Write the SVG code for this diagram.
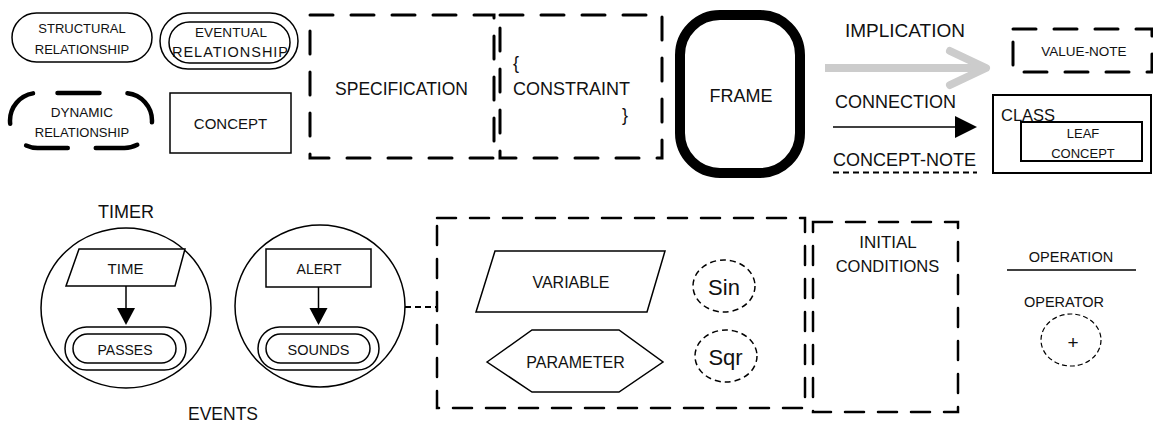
<svg xmlns="http://www.w3.org/2000/svg" width="1153" height="423" viewBox="0 0 1153 423">
  <style>
    text { font-family: "Liberation Sans", Arial, sans-serif; fill: #111; }
    .c { text-anchor: middle; }
    .line { fill: #fff; stroke: #000; stroke-width: 1.5; }
    .thin { fill: none; stroke: #000; stroke-width: 1.5; }
    .dashbox { fill: none; stroke: #000; stroke-width: 3; stroke-dasharray: 23 18; stroke-linecap: round; }
    .dashbox2 { fill: none; stroke: #000; stroke-width: 2.5; stroke-dasharray: 19 14; stroke-linecap: round; }
    .dotted { fill: none; stroke: #000; stroke-width: 1.5; stroke-dasharray: 6 4; }
    .head { fill: #000; stroke: none; }
  </style>
  <rect width="1153" height="423" fill="#fff"/>

  <!-- relationship legends -->
  <g id="structural-relationship">
    <rect class="line" x="12" y="13" width="140" height="49" rx="24.5"/>
    <text class="c" x="82" y="33" font-size="13">STRUCTURAL</text>
    <text class="c" x="82" y="54" font-size="13">RELATIONSHIP</text>
  </g>
  <g id="eventual-relationship">
    <rect class="line" x="160" y="13" width="138" height="56" rx="28"/>
    <rect class="line" x="169" y="22" width="121" height="41" rx="20.5"/>
    <text class="c" x="231" y="37" font-size="13.5" textLength="72" lengthAdjust="spacing">EVENTUAL</text>
    <text class="c" x="230" y="56.5" font-size="14.5" textLength="116" lengthAdjust="spacing">RELATIONSHIP</text>
  </g>
  <g id="dynamic-relationship">
    <rect x="10" y="93" width="142" height="55" rx="27.5" fill="none" stroke="#000" stroke-width="4.5" stroke-dasharray="42 28" stroke-dashoffset="-20" stroke-linecap="round"/>
    <text class="c" x="82" y="117" font-size="13.5">DYNAMIC</text>
    <text class="c" x="82" y="137" font-size="13">RELATIONSHIP</text>
  </g>
  <g id="concept">
    <rect class="line" x="170" y="93" width="121" height="60"/>
    <text class="c" x="230.5" y="129" font-size="15">CONCEPT</text>
  </g>

  <!-- specification / constraint -->
  <g id="specification">
    <rect class="dashbox" x="310" y="15" width="184" height="143"/>
    <text class="c" x="401.5" y="95" font-size="17.5">SPECIFICATION</text>
  </g>
  <g id="constraint">
    <rect class="dashbox" x="500" y="15" width="162" height="143"/>
    <text x="513" y="69" font-size="18">{</text>
    <text x="513" y="95" font-size="18">CONSTRAINT</text>
    <text x="622" y="121" font-size="18">}</text>
  </g>

  <g id="frame">
    <rect x="680" y="15" width="120" height="158" rx="40" fill="#fff" stroke="#000" stroke-width="10"/>
    <text class="c" x="741" y="102" font-size="18">FRAME</text>
  </g>

  <!-- connector legends -->
  <g id="implication">
    <text x="845" y="37" font-size="19">IMPLICATION</text>
  </g>
  <g id="connection">
    <text x="835" y="108" font-size="18">CONNECTION</text>
  </g>
  <g id="concept-note">
    <text x="833" y="166" font-size="18">CONCEPT-NOTE</text>
    <line x1="833" y1="172.5" x2="977" y2="172.5" stroke="#000" stroke-width="2" stroke-dasharray="6 4"/>
  </g>

  <g id="value-note">
    <rect class="dashbox" x="1013" y="29" width="139" height="43"/>
    <text class="c" x="1084" y="55.5" font-size="13.5">VALUE-NOTE</text>
  </g>
  <g id="class">
    <rect x="993" y="95" width="158" height="78" fill="#fff" stroke="#000" stroke-width="2"/>
    <text x="1001" y="121" font-size="16.5">CLASS</text>
    <g id="leaf-concept">
      <rect x="1021" y="122" width="121" height="39" fill="#fff" stroke="#000" stroke-width="2"/>
      <text class="c" x="1083" y="138" font-size="13">LEAF</text>
      <text class="c" x="1083" y="158" font-size="13">CONCEPT</text>
    </g>
  </g>

  <!-- timer -->
  <g id="timer">
    <text class="c" x="126" y="218" font-size="18">TIMER</text>
    <ellipse class="line" cx="126" cy="308" rx="85" ry="80"/>
  </g>
  <g id="time">
    <polygon class="line" points="79,249 185,249 175,286 66,286"/>
    <text class="c" x="125.5" y="274" font-size="15">TIME</text>
  </g>
  <g id="passes">
    <rect class="line" x="65" y="327" width="121" height="43" rx="21.5"/>
    <rect class="line" x="73" y="334" width="103" height="29" rx="14.5"/>
    <text class="c" x="125" y="355" font-size="14">PASSES</text>
  </g>

  <!-- alert -->
  <g id="alert-event">
    <ellipse class="line" cx="320" cy="306" rx="85" ry="81"/>
  </g>
  <g id="alert">
    <rect class="line" x="266" y="249" width="105" height="38"/>
    <text class="c" x="319" y="274" font-size="14">ALERT</text>
  </g>
  <g id="sounds">
    <rect class="line" x="258" y="327" width="121" height="43" rx="21.5"/>
    <rect class="line" x="266" y="334" width="104" height="29" rx="14.5"/>
    <text class="c" x="318.5" y="355" font-size="14.5">SOUNDS</text>
  </g>
  <g id="events-label">
    <text class="c" x="223" y="420" font-size="17.5">EVENTS</text>
  </g>

  <!-- variables and parameters -->
  <g id="model-block">
    <rect class="dashbox2" x="437" y="218" width="368" height="190"/>
  </g>
  <g id="variable">
    <polygon class="line" points="495,251 665,251 647,312 476,312"/>
    <text class="c" x="571" y="288" font-size="16">VARIABLE</text>
  </g>
  <g id="parameter">
    <polygon class="line" points="487,362 532,330 619,330 663,362 619,392 532,392"/>
    <text class="c" x="575.5" y="368" font-size="16">PARAMETER</text>
  </g>
  <g id="sin">
    <ellipse class="dotted" cx="724" cy="286" rx="31" ry="26"/>
    <text class="c" x="724" y="295" font-size="22">Sin</text>
  </g>
  <g id="sqr">
    <ellipse class="dotted" cx="726" cy="356" rx="31" ry="26"/>
    <text class="c" x="725.5" y="365" font-size="22">Sqr</text>
  </g>

  <g id="initial-conditions">
    <rect class="dashbox2" x="813" y="222" width="145" height="190"/>
    <text class="c" x="888" y="248" font-size="17">INITIAL</text>
    <text class="c" x="887.5" y="272" font-size="16.5">CONDITIONS</text>
  </g>

  <g id="operation">
    <text class="c" x="1071" y="262" font-size="14.5">OPERATION</text>
    <line x1="1007" y1="270" x2="1136" y2="270" stroke="#000" stroke-width="1.5"/>
  </g>
  <g id="operator">
    <text class="c" x="1064" y="307" font-size="14.5">OPERATOR</text>
    <ellipse cx="1071" cy="340" rx="30" ry="26" fill="none" stroke="#000" stroke-width="1.2" stroke-dasharray="5 3"/>
    <text class="c" x="1073" y="349" font-size="19">+</text>
  </g>

  <!-- connectors -->
  <g id="connectors">
    <line x1="825" y1="68" x2="984" y2="68" stroke="#cccccc" stroke-width="8"/>
    <polyline points="950,51 986,68 950,85" fill="none" stroke="#cccccc" stroke-width="8" stroke-linecap="round" stroke-linejoin="round"/>
    <line x1="833" y1="127" x2="958" y2="127" stroke="#000" stroke-width="1.5"/>
    <polygon class="head" points="955,116 977,127 955,138"/>
    <line x1="126" y1="286" x2="126" y2="310" stroke="#000" stroke-width="1.5"/>
    <polygon class="head" points="117,308 135,308 126,325"/>
    <line x1="318.5" y1="287" x2="318.5" y2="310" stroke="#000" stroke-width="1.5"/>
    <polygon class="head" points="309.5,308 327.5,308 318.5,325"/>
    <line x1="405" y1="307" x2="437" y2="307" stroke="#000" stroke-width="2" stroke-dasharray="6 4"/>
  </g>
</svg>
